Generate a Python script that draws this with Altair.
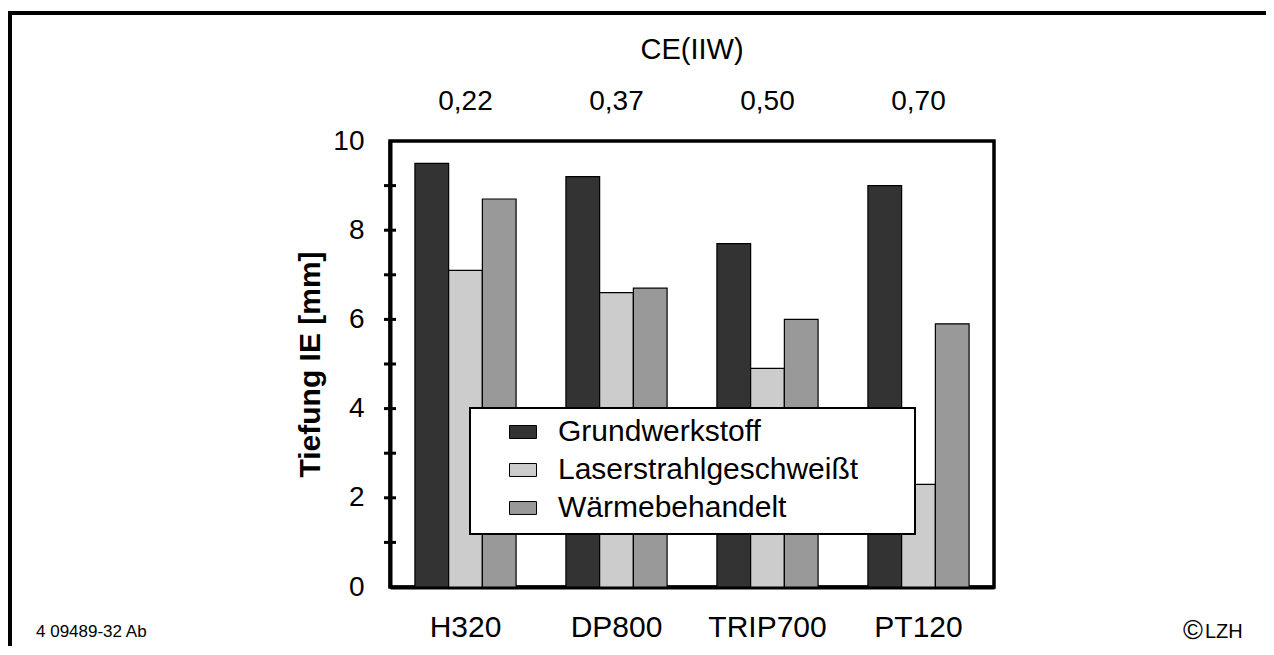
import altair as alt
import pandas as pd

# ---- data ----
grades = ["H320", "DP800", "TRIP700", "PT120"]
ce_values = ["0,22", "0,37", "0,50", "0,70"]
series = ["Grundwerkstoff", "Laserstrahlgeschweißt", "Wärmebehandelt"]
grund = [9.5, 9.2, 7.7, 9.0]
laser = [7.1, 6.6, 4.9, 2.3]
waerme = [8.7, 6.7, 6.0, 5.9]
colors = ["#333333", "#cccccc", "#999999"]
y_label_values = [0, 2, 4, 6, 8, 10]
y_tick_values = [1, 2, 3, 4, 5, 6, 7, 8, 9]

rows = []
for s, vals in zip(series, [grund, laser, waerme]):
    for g, v in zip(grades, vals):
        rows.append({"Werkstoff": g, "Serie": s, "Tiefung": v})
df = pd.DataFrame(rows)
ce_df = pd.DataFrame({"Werkstoff": grades, "CE": ce_values})
tick_df = pd.DataFrame({"Tiefung": y_tick_values})
one = pd.DataFrame({"a": [0]})

FONT = "Liberation Sans"
W, H = 604, 446
PL, PT = 382, 133
TOTAL_W, TOTAL_H = 1258, 638

xscale = alt.Scale(domain=grades, paddingInner=0.33, paddingOuter=0.165)
yscale = alt.Scale(domain=[0, 10], nice=False)

bars = alt.Chart(df).mark_bar(stroke="black", strokeWidth=1.2).encode(
    x=alt.X("Werkstoff:N", scale=xscale, sort=grades,
            axis=alt.Axis(title=None, labelAngle=0, labelFontSize=30, labelFont=FONT,
                          labelColor="black", ticks=False, domainColor="black",
                          domainWidth=4, labelPadding=25)),
    xOffset=alt.XOffset("Serie:N", sort=series, scale=alt.Scale(domain=series, paddingInner=0, paddingOuter=0)),
    y=alt.Y("Tiefung:Q", scale=yscale,
            axis=alt.Axis(title="Tiefung IE [mm]", values=y_label_values, ticks=False,
                          grid=False, domainColor="black", domainWidth=4,
                          labelFontSize=28, labelFont=FONT, labelColor="black",
                          labelPadding=26, titleFontSize=30, titleFont=FONT,
                          titleFontWeight="bold", titleColor="black", titlePadding=7)),
    color=alt.Color("Serie:N", sort=series,
                    scale=alt.Scale(domain=series, range=colors),
                    legend=alt.Legend(title=None, orient="none", legendX=118, legendY=276,
                                      labelFontSize=30, labelFont=FONT, labelColor="black",
                                      labelLimit=500,
                                      symbolType="M-1,-0.48H1V0.48H-1Z", symbolSize=729,
                                      symbolStrokeColor="black", symbolStrokeWidth=1,
                                      symbolOpacity=1,
                                      labelOffset=20, rowPadding=8, padding=0)),
)

ticks = alt.Chart(tick_df).mark_rule(color="black", strokeWidth=3).encode(
    y=alt.Y("Tiefung:Q", scale=yscale),
    x=alt.value(-6), x2=alt.value(6),
)

legend_box = alt.Chart(one).mark_rect(fill="white", stroke="black", strokeWidth=2).encode(
    x=alt.value(80), x2=alt.value(525), y=alt.value(267), y2=alt.value(393)
)

ce_text = alt.Chart(ce_df).mark_text(fontSize=28, font=FONT, color="black", baseline="middle").encode(
    x=alt.X("Werkstoff:N", scale=xscale, sort=grades),
    y=alt.value(102 - 141),
    text="CE:N",
)

ce_title = alt.Chart(one).mark_text(fontSize=29, font=FONT, color="black", baseline="middle").encode(
    x=alt.value(W / 2), y=alt.value(50 - 141), text=alt.value("CE(IIW)")
)

foot_left = alt.Chart(one).mark_text(fontSize=17, font=FONT, color="black", align="left",
                                       baseline="middle").encode(
    x=alt.value(36 - 390), y=alt.value(632 - 141), text=alt.value("4 09489-32 Ab")
)

foot_copy = alt.Chart(one).mark_text(fontSize=27, font=FONT, color="black", align="center",
                                       baseline="middle").encode(
    x=alt.value(1193 - 390), y=alt.value(631 - 141), text=alt.value("©")
)
foot_lzh = alt.Chart(one).mark_text(fontSize=20, font=FONT, color="black", align="left",
                                      baseline="middle").encode(
    x=alt.value(1205 - 390), y=alt.value(632 - 141), text=alt.value("LZH")
)

frame_top = alt.Chart(one).mark_rule(color="black", strokeWidth=4).encode(
    x=alt.value(8 - 390), x2=alt.value(1274 - 390), y=alt.value(13 - 141)
)
frame_left = alt.Chart(one).mark_rule(color="black", strokeWidth=4).encode(
    x=alt.value(10 - 390), y=alt.value(11 - 141), y2=alt.value(660 - 141)
)

chart = alt.layer(
    bars, ticks, legend_box, ce_text, ce_title, foot_left, foot_copy, foot_lzh,
    frame_top, frame_left
).properties(
    width=W, height=H,
    autosize=alt.AutoSizeParams(type="none"),
    padding={"left": PL, "top": PT, "right": TOTAL_W - PL - W, "bottom": TOTAL_H - PT - H},
).configure(
    background="white",
    view=alt.ViewConfig(stroke="black", strokeWidth=3.5),
)

chart.save("out.html", embed_options={"renderer": "svg", "actions": False})
